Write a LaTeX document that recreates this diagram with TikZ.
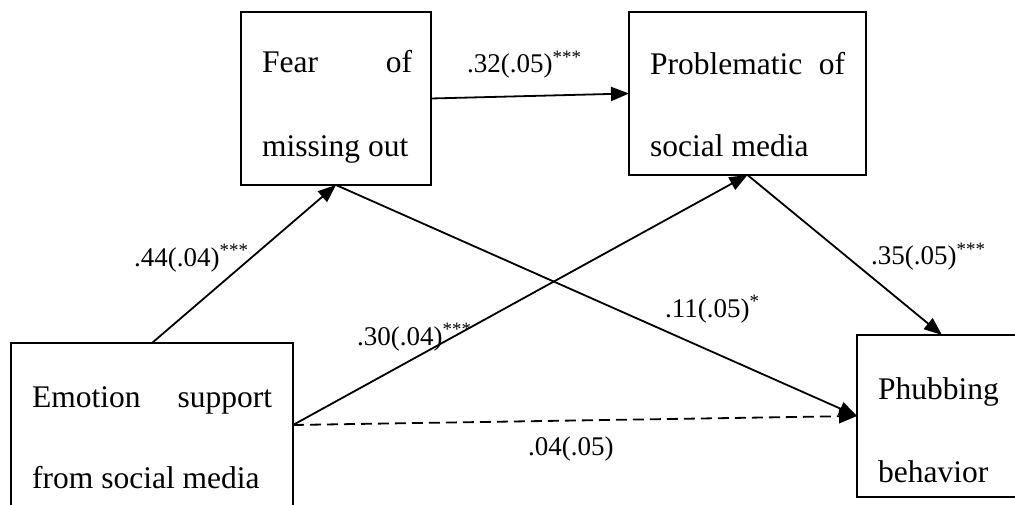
\documentclass[tikz,border=0pt]{standalone}
\usepackage{fontspec}
\setmainfont{Liberation Serif}
\usetikzlibrary{arrows.meta}
\begin{document}
\begin{tikzpicture}[x=1pt,y=-1pt,
  box/.style={draw, line width=1.8pt, rectangle, anchor=north west, inner sep=0pt, outer sep=0pt},
  boxtext/.style={anchor=base west, inner sep=0pt, font=\fontsize{31.5}{36}\selectfont},
  lab/.style={anchor=base west, inner sep=0pt, font=\fontsize{27}{32}\selectfont},
  conn/.style={line width=1.8pt, -{Triangle[length=18pt,width=14pt]}},
  dconn/.style={conn, dash pattern=on 11pt off 6pt}]
\useasboundingbox (0,0) rectangle (1015,505);
\clip (0,0) rectangle (1015,505);
\fill[white] (0,0) rectangle (1015,505);
% boxes
\node[box, minimum width=190pt, minimum height=173pt] (fear) at (241,12) {};
\node[box, minimum width=237pt, minimum height=163pt] (prob) at (629,12) {};
\node[box, minimum width=282pt, minimum height=164pt] (emo) at (11,343) {};
\node[box, minimum width=170pt, minimum height=162pt] (phub) at (857,335) {};
% box texts
\node[boxtext] (t1) at (262,73) {\makebox[150pt][s]{Fear of}};
\node[boxtext] (t2) at (262,157) {missing out};
\node[boxtext] (t3) at (650,75) {\makebox[195pt][s]{Problematic of}};
\node[boxtext] (t4) at (650,157) {social media};
\node[boxtext] (t5) at (32,407) {\makebox[240pt][s]{Emotion support}};
\node[boxtext] (t6) at (32,488) {from social media};
\node[boxtext] (t7) at (878,399) {Phubbing};
\node[boxtext] (t8) at (878,482) {behavior};
% connectors
\draw[conn] (fear.east) -- (prob.west);
\draw[conn] (emo.north) -- (fear.south);
\draw[conn] (emo.east) -- (prob.south);
\draw[conn] (fear.south) -- (phub.west);
\draw[conn] (prob.south) -- (phub.north);
\draw[dconn] (emo.east) -- (phub.west);
% labels
\node[lab] (l1) at (467,73) {.32(.05)\textsuperscript{***}};
\node[lab] (l2) at (134,266) {.44(.04)\textsuperscript{***}};
\node[lab] (l3) at (357,345) {.30(.04)\textsuperscript{***}};
\node[lab] (l4) at (665,317) {.11(.05)\textsuperscript{*}};
\node[lab] (l5) at (871,265) {.35(.05)\textsuperscript{***}};
\node[lab] (l6) at (528,455) {.04(.05)};
\end{tikzpicture}
\end{document}
